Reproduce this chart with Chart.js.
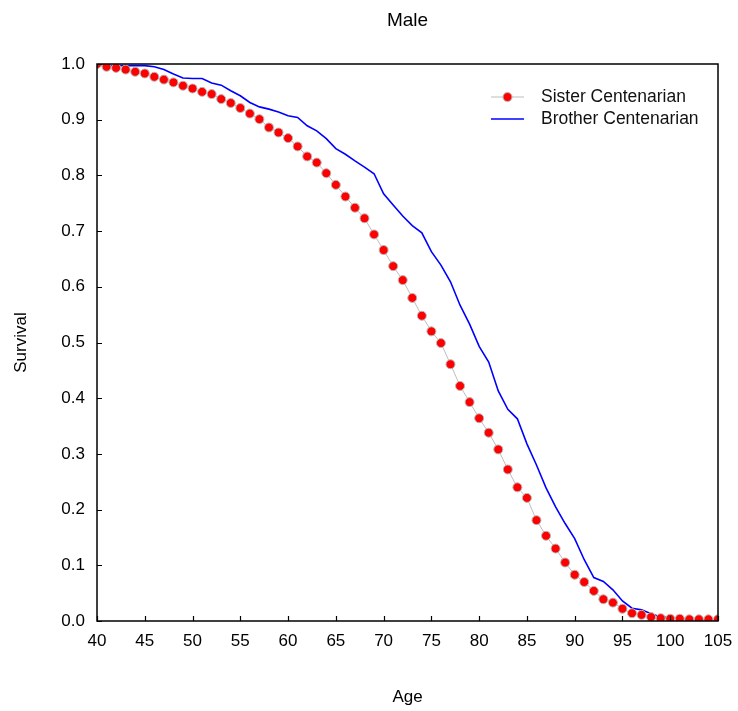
<!DOCTYPE html>
<html>
<head>
<meta charset="utf-8">
<script src="https://cdn.jsdelivr.net/npm/chart.js@4"></script>
<style>
  html, body { margin: 0; padding: 0; background: #fff; }
</style>
</head>
<body>
<canvas id="grafico" width="738" height="711"></canvas>
<script>
// Idades (eixo x)
const idades = [40, 41, 42, 43, 44, 45, 46, 47, 48, 49, 50, 51, 52, 53, 54, 55, 56, 57, 58, 59,
  60, 61, 62, 63, 64, 65, 66, 67, 68, 69, 70, 71, 72, 73, 74, 75, 76, 77, 78, 79,
  80, 81, 82, 83, 84, 85, 86, 87, 88, 89, 90, 91, 92, 93, 94, 95, 96, 97, 98, 99,
  100, 101, 102, 103, 104, 105];

// Sobrevivência - irmã centenária
const sisterCentenarian = [1.000, 0.995, 0.993, 0.990, 0.986, 0.983, 0.977, 0.972, 0.967, 0.961,
  0.956, 0.950, 0.946, 0.937, 0.930, 0.921, 0.911, 0.901, 0.886, 0.877,
  0.867, 0.852, 0.834, 0.823, 0.804, 0.783, 0.762, 0.742, 0.723, 0.694,
  0.666, 0.637, 0.612, 0.580, 0.548, 0.520, 0.499, 0.461, 0.422, 0.393,
  0.364, 0.338, 0.308, 0.272, 0.240, 0.221, 0.181, 0.153, 0.130, 0.105,
  0.083, 0.070, 0.054, 0.039, 0.033, 0.022, 0.014, 0.011, 0.007, 0.005,
  0.004, 0.004, 0.003, 0.003, 0.003, 0.003];

// Sobrevivência - irmão centenário
const brotherCentenarian = [0.998, 0.997, 0.997, 0.997, 0.997, 0.997, 0.995, 0.990, 0.982, 0.975,
  0.974, 0.974, 0.966, 0.962, 0.952, 0.943, 0.931, 0.923, 0.919, 0.914,
  0.907, 0.904, 0.889, 0.880, 0.866, 0.848, 0.838, 0.826, 0.815, 0.803,
  0.767, 0.747, 0.727, 0.710, 0.697, 0.663, 0.639, 0.609, 0.567, 0.533,
  0.493, 0.465, 0.413, 0.380, 0.363, 0.318, 0.280, 0.239, 0.205, 0.175,
  0.148, 0.110, 0.078, 0.071, 0.056, 0.036, 0.023, 0.020, 0.013, 0.007,
  0.006, 0.005, 0.003, 0.002, 0.002, 0.002];

const xTicks = [40, 45, 50, 55, 60, 65, 70, 75, 80, 85, 90, 95, 100, 105];
const yTicks = [0.0, 0.1, 0.2, 0.3, 0.4, 0.5, 0.6, 0.7, 0.8, 0.9, 1.0];

const fonte = "'Liberation Sans', Arial, Helvetica, sans-serif";

// Moldura + marcas de escala para dentro
const moldura = {
  id: 'moldura',
  afterDraw(chart) {
    const { ctx, chartArea: a, scales } = chart;
    ctx.save();
    ctx.strokeStyle = '#000';
    ctx.lineWidth = 1.5;
    ctx.strokeRect(a.left, a.top, a.right - a.left, a.bottom - a.top);
    ctx.lineWidth = 1.2;
    ctx.beginPath();
    xTicks.forEach(v => {
      const px = Math.round(scales.x.getPixelForValue(v)) + 0.5;
      ctx.moveTo(px, a.bottom);
      ctx.lineTo(px, a.bottom - 5);
    });
    yTicks.forEach(v => {
      const py = Math.round(scales.y.getPixelForValue(v)) + 0.5;
      ctx.moveTo(a.left, py);
      ctx.lineTo(a.left + 5, py);
    });
    ctx.stroke();
    ctx.restore();
  }
};

// Legenda dentro da área do gráfico
const legenda = {
  id: 'legenda',
  afterDatasetsDraw(chart) {
    const { ctx, chartArea: a } = chart;
    const x0 = a.right - 227;
    let y = a.top + 33;
    ctx.save();
    ctx.font = '17.5px ' + fonte;
    ctx.textBaseline = 'middle';
    chart.data.datasets.forEach(ds => {
      ctx.strokeStyle = ds.borderColor;
      ctx.lineWidth = ds.borderWidth;
      ctx.beginPath();
      ctx.moveTo(x0, y);
      ctx.lineTo(x0 + 33, y);
      ctx.stroke();
      if (ds.pointRadius > 0) {
        ctx.beginPath();
        ctx.arc(x0 + 16.5, y, ds.pointRadius, 0, Math.PI * 2);
        ctx.fillStyle = ds.pointBackgroundColor;
        ctx.fill();
        ctx.strokeStyle = ds.pointBorderColor;
        ctx.lineWidth = ds.pointBorderWidth;
        ctx.stroke();
      }
      ctx.fillStyle = '#111';
      ctx.fillText(ds.label, x0 + 50, y);
      y += 22;
    });
    ctx.restore();
  }
};

const ctx = document.getElementById('grafico').getContext('2d');
new Chart(ctx, {
  type: 'line',
  data: {
    datasets: [
      {
        label: 'Sister Centenarian',
        data: idades.map((x, i) => ({ x: x, y: sisterCentenarian[i] })),
        borderColor: '#bdbdbd',
        borderWidth: 1,
        pointRadius: 4.5,
        pointBackgroundColor: '#ff0000',
        pointBorderColor: '#b8b8b8',
        pointBorderWidth: 1,
        tension: 0
      },
      {
        label: 'Brother Centenarian',
        data: idades.map((x, i) => ({ x: x, y: brotherCentenarian[i] })),
        borderColor: '#0000ff',
        borderWidth: 1.6,
        pointRadius: 0,
        tension: 0
      }
    ]
  },
  options: {
    responsive: false,
    animation: false,
    layout: { padding: { left: 0, right: 20, top: 0, bottom: 0 } },
    plugins: {
      legend: { display: false },
      tooltip: { enabled: false },
      title: {
        display: true,
        text: 'Male',
        fullSize: false,
        color: '#000',
        font: { family: fonte, size: 19, weight: 'normal' },
        padding: { top: 9, bottom: 32.2 }
      }
    },
    scales: {
      x: {
        type: 'linear',
        min: 40,
        max: 105,
        grid: { display: false, drawTicks: false },
        border: { display: false },
        afterBuildTicks: s => { s.ticks = xTicks.map(v => ({ value: v })); },
        afterFit: s => { s.height = 90; s.paddingLeft = 0; s.paddingRight = 0; },
        ticks: {
          color: '#000',
          padding: 10,
          maxRotation: 0,
          autoSkip: false,
          font: { family: fonte, size: 17 }
        },
        title: {
          display: true,
          text: 'Age',
          color: '#000',
          font: { family: fonte, size: 17 },
          padding: { top: 0, bottom: 3.8 }
        }
      },
      y: {
        min: 0,
        max: 1,
        grid: { display: false, drawTicks: false },
        border: { display: false },
        afterBuildTicks: s => { s.ticks = yTicks.map(v => ({ value: v })); },
        afterFit: s => { s.width = 97; s.paddingTop = 0; s.paddingBottom = 0; },
        ticks: {
          color: '#000',
          padding: 12,
          autoSkip: false,
          font: { family: fonte, size: 17 },
          callback: v => Number(v).toFixed(1)
        },
        title: {
          display: true,
          text: 'Survival',
          color: '#000',
          font: { family: fonte, size: 17 },
          padding: { top: 10.8, bottom: 0 }
        }
      }
    }
  },
  plugins: [moldura, legenda]
});
</script>
</body>
</html>
